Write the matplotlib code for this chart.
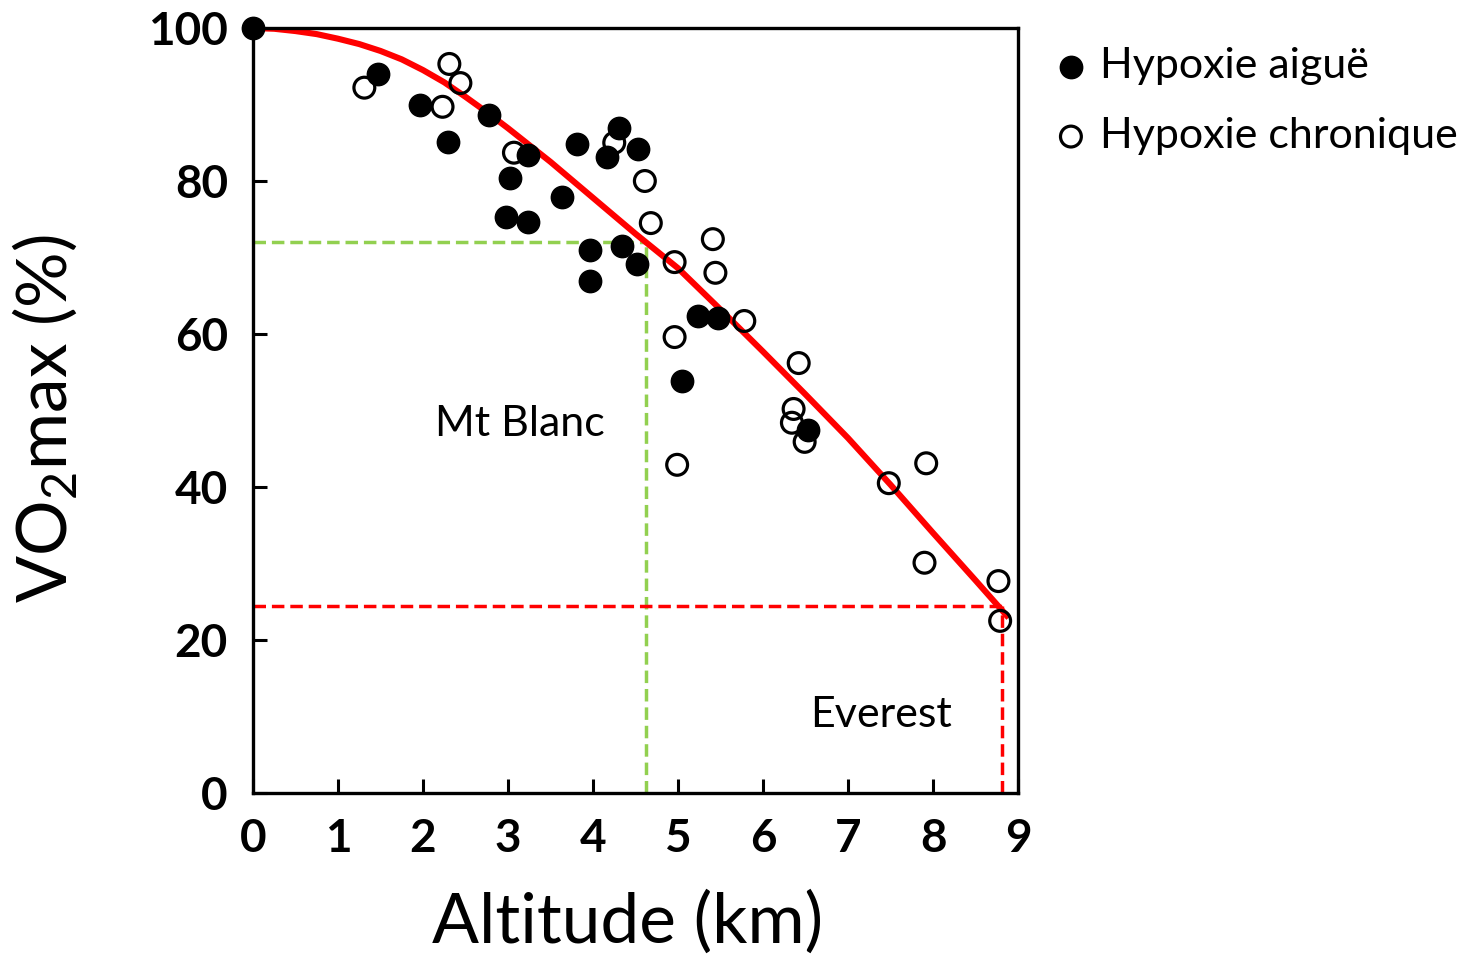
import matplotlib
matplotlib.use("Agg")
import matplotlib.pyplot as plt

plt.rcParams['font.family'] = ['Lato', 'DejaVu Sans']
plt.rcParams['mathtext.fontset'] = 'custom'
plt.rcParams['mathtext.rm'] = 'Lato'
plt.rcParams['mathtext.it'] = 'Lato:italic'

# ---- data ----
acute_alt = [0.00, 1.47, 1.97, 2.29, 2.78, 3.02, 2.98, 3.23, 3.23, 3.64, 3.81,
             3.96, 3.96, 4.16, 4.30, 4.34, 4.53, 4.52, 5.24, 5.47, 5.05, 6.53]
acute_vo2 = [100.0, 94.0, 89.9, 85.1, 88.6, 80.4, 75.3, 83.4, 74.6, 77.9, 84.8,
             71.0, 66.9, 83.1, 86.9, 71.5, 84.2, 69.2, 62.4, 62.1, 53.9, 47.5]

chronic_alt = [1.31, 2.23, 2.31, 2.44, 3.07, 4.25, 4.61, 4.68, 4.96, 5.41, 5.44,
               5.78, 4.96, 4.99, 6.42, 6.36, 6.34, 6.49, 7.48, 7.92, 7.90, 8.77, 8.79]
chronic_vo2 = [92.2, 89.7, 95.3, 92.8, 83.7, 85.0, 80.0, 74.5, 69.4, 72.4, 68.0,
               61.7, 59.6, 42.9, 56.2, 50.2, 48.4, 45.9, 40.5, 43.1, 30.1, 27.7, 22.5]

curve_alt = [0.0, 0.25, 0.5, 0.75, 1.0, 1.25, 1.5, 1.75, 2.0, 2.25, 2.5, 2.75,
             3.0, 3.5, 4.0, 4.5, 5.0, 5.5, 6.0, 6.5, 7.0, 7.5, 8.0, 8.5, 8.89]
curve_vo2 = [100.0, 99.9, 99.6, 99.2, 98.6, 97.9, 97.0, 95.9, 94.5, 92.9, 91.0,
             89.0, 86.9, 82.5, 77.8, 73.1, 68.6, 63.2, 57.7, 52.1, 46.4, 40.3,
             34.0, 27.8, 22.9]

montblanc_alt, montblanc_vo2 = 4.62, 72.0
everest_alt, everest_vo2 = 8.81, 24.4

xticks = [0, 1, 2, 3, 4, 5, 6, 7, 8, 9]
yticks = [0, 20, 40, 60, 80, 100]

# ---- figure ----
fig = plt.figure(figsize=(14.84, 9.55), dpi=100)
ax = fig.add_axes([253 / 1484, 162 / 955, 765 / 1484, 765 / 955])
ax.set_xlim(0, 9)
ax.set_ylim(0, 100)

green = '#92d050'
red = '#ff0000'
dash = (3.6, 1.7)
dlw = 2.5

# reference lines
ax.plot([0, montblanc_alt], [montblanc_vo2, montblanc_vo2], color=green, lw=dlw,
        dashes=dash, zorder=1)
ax.plot([montblanc_alt, montblanc_alt], [0, montblanc_vo2], color=green, lw=dlw,
        dashes=dash, zorder=1)
ax.plot([0, everest_alt], [everest_vo2, everest_vo2], color=red, lw=dlw,
        dashes=dash, zorder=1)
ax.plot([everest_alt, everest_alt], [0, everest_vo2], color=red, lw=dlw,
        dashes=dash, zorder=1)

# fitted curve
ax.plot(curve_alt, curve_vo2, color=red, lw=4.4, zorder=2, solid_capstyle='butt',
        solid_joinstyle='round')

# points
h_open = ax.scatter(chronic_alt, chronic_vo2, s=225, facecolors='none',
                    edgecolors='black', linewidths=2.3, zorder=3, clip_on=False)
h_fill = ax.scatter(acute_alt, acute_vo2, s=260, color='black', zorder=4,
                    clip_on=False)

# annotations
ax.text(2.14, 48.2, 'Mt Blanc', fontsize=31, va='center', ha='left')
ax.text(6.56, 10.2, 'Everest', fontsize=31, va='center', ha='left')

# axes styling
for sp in ax.spines.values():
    sp.set_linewidth(2.4)
ax.set_xticks(xticks)
ax.set_yticks(yticks)
ax.tick_params(direction='in', length=10, width=2.2, labelsize=33, pad=18)
for lab in ax.get_xticklabels() + ax.get_yticklabels():
    lab.set_fontweight('bold')

ax.set_xlabel('Altitude (km)', fontsize=50)
ax.set_ylabel('VO$_2$max (%)', fontsize=50)
ax.xaxis.set_label_coords(0.49, -0.127)
ax.yaxis.set_label_coords(-0.226, 0.49)

leg = ax.legend([h_fill, h_open], ['Hypoxie aiguë', 'Hypoxie chronique'],
                loc='upper left', bbox_to_anchor=(1058 / 1484, 1 - 47 / 955),
                bbox_transform=fig.transFigure, frameon=False, fontsize=31,
                handlelength=0.6, handletextpad=0.37, labelspacing=0.74,
                borderpad=0, borderaxespad=0, scatterpoints=1)

fig.savefig('out.png', dpi=100)
